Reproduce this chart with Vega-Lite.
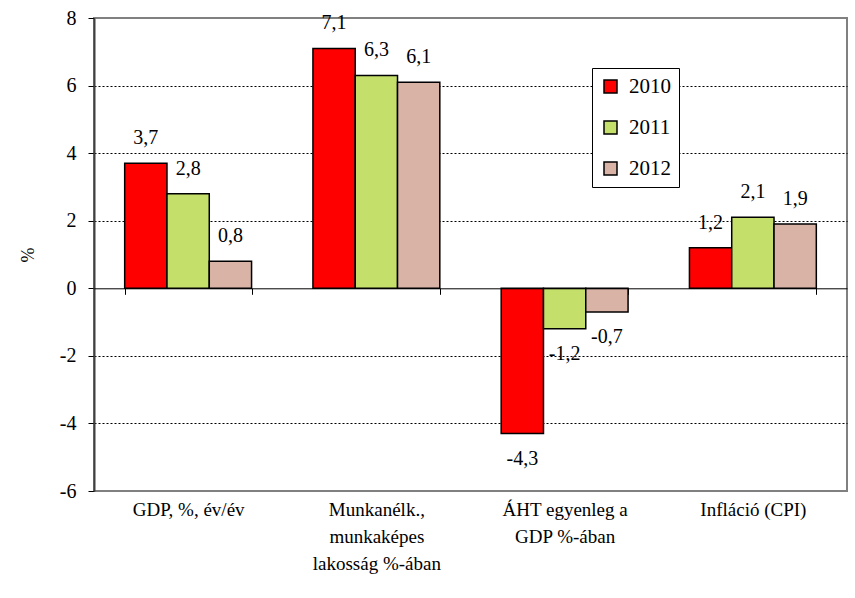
{
  "$schema": "https://vega.github.io/schema/vega-lite/v6.json",
  "autosize": {"type": "none"},
  "padding": {"left": 94, "top": 18, "right": 8, "bottom": 107},
  "width": 753,
  "height": 473,
  "config": {
    "locale": {"number": {"decimal": ",", "thousands": " ", "grouping": [3], "currency": ["", ""], "minus": "-"}},
    "view": {"stroke": "#808080", "strokeWidth": 2},
    "font": "Liberation Serif",
    "axis": {"labelFont": "Liberation Serif", "titleFont": "Liberation Serif", "labelColor": "#000", "titleColor": "#000"}
  },
  "data": {"values": [
    {"category": "GDP, %, év/év", "year": "2010", "value": 3.7},
    {"category": "GDP, %, év/év", "year": "2011", "value": 2.8},
    {"category": "GDP, %, év/év", "year": "2012", "value": 0.8},
    {"category": "Munkanélk., munkaképes lakosság %-ában", "year": "2010", "value": 7.1},
    {"category": "Munkanélk., munkaképes lakosság %-ában", "year": "2011", "value": 6.3},
    {"category": "Munkanélk., munkaképes lakosság %-ában", "year": "2012", "value": 6.1},
    {"category": "ÁHT egyenleg a GDP %-ában", "year": "2010", "value": -4.3},
    {"category": "ÁHT egyenleg a GDP %-ában", "year": "2011", "value": -1.2},
    {"category": "ÁHT egyenleg a GDP %-ában", "year": "2012", "value": -0.7},
    {"category": "Infláció (CPI)", "year": "2010", "value": 1.2},
    {"category": "Infláció (CPI)", "year": "2011", "value": 2.1},
    {"category": "Infláció (CPI)", "year": "2012", "value": 1.9}
  ]},
  "encoding": {
    "x": {
      "field": "category", "type": "nominal", "sort": null,
      "scale": {"paddingInner": 0.326, "paddingOuter": 0.163},
      "axis": {
        "title": null, "orient": "bottom", "offset": -202.7,
        "domain": true, "domainColor": "#000", "domainWidth": 1,
        "ticks": true, "tickBand": "extent", "tickColor": "#000", "tickSize": 6, "tickWidth": 1,
        "labelAngle": 0, "labelFontSize": 19, "labelPadding": 206, "labelLineHeight": 27, "labelBaseline": "top",
        "labelLimit": 300, "zindex": 1,
        "labelExpr": "datum.label == 'Munkanélk., munkaképes lakosság %-ában' ? ['Munkanélk.,', 'munkaképes', 'lakosság %-ában'] : datum.label == 'ÁHT egyenleg a GDP %-ában' ? ['ÁHT egyenleg a', 'GDP %-ában'] : datum.label"
      }
    },
    "xOffset": {"field": "year", "type": "nominal", "scale": {"paddingInner": 0, "paddingOuter": 0}},
    "y": {
      "field": "value", "type": "quantitative",
      "scale": {"domain": [-6, 8], "nice": false, "zero": false},
      "axis": {
        "title": "%", "titleFontSize": 18, "titleFontWeight": "normal", "titlePadding": 22,
        "values": [-6, -4, -2, 0, 2, 4, 6, 8],
        "labelFontSize": 20, "labelPadding": 12,
        "domainColor": "#404040", "domainWidth": 2,
        "tickColor": "#000", "tickSize": 6,
        "grid": true, "gridColor": "#000", "gridDash": [2, 2], "gridWidth": 1,
        "gridOpacity": {"condition": {"test": "datum.value == 8 || datum.value == -6 || datum.value == 0", "value": 0}, "value": 1}
      }
    }
  },
  "layer": [
    {
      "mark": {"type": "bar", "stroke": "#000", "strokeWidth": 1.5},
      "encoding": {
        "color": {
          "field": "year", "type": "nominal",
          "scale": {"domain": ["2010", "2011", "2012"], "range": ["#FF0000", "#C5E06A", "#D9B3A6"]},
          "legend": {
            "title": null, "orient": "none", "legendX": 498, "legendY": 50,
            "direction": "vertical",
            "symbolType": "square", "symbolSize": 169, "symbolStrokeColor": "#000", "symbolStrokeWidth": 1.5,
            "labelFont": "Liberation Serif", "labelFontSize": 21, "labelOffset": 8, "labelColor": "#000",
            "rowPadding": 19, "padding": 8,
            "strokeColor": "#000", "fillColor": "#fff"
          }
        }
      }
    },
    {
      "transform": [{"filter": "datum.value >= 0"}],
      "mark": {"type": "text", "baseline": "alphabetic", "dy": -19, "fontSize": 20, "font": "Liberation Serif", "color": "#000"},
      "encoding": {"text": {"field": "value", "type": "quantitative", "format": ".1f"}}
    },
    {
      "transform": [{"filter": "datum.value < 0"}],
      "mark": {"type": "text", "baseline": "alphabetic", "dy": 31, "fontSize": 20, "font": "Liberation Serif", "color": "#000"},
      "encoding": {"text": {"field": "value", "type": "quantitative", "format": ".1f"}}
    }
  ]
}
